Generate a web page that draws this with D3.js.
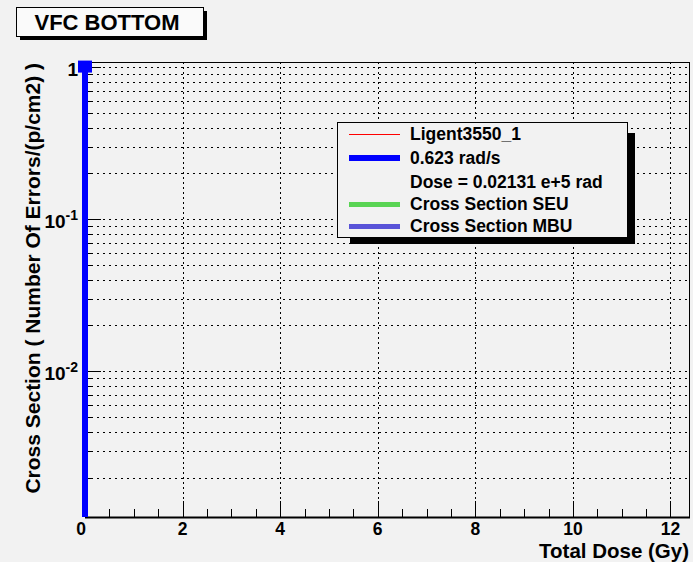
<!DOCTYPE html>
<html>
<head>
<meta charset="utf-8">
<script src="https://cdn.jsdelivr.net/npm/d3@7"></script>
<style>
  html, body { margin: 0; padding: 0; background: #f2f2f2; }
  svg { display: block; }
  text { font-family: "Liberation Sans", Arial, Helvetica, sans-serif; font-weight: bold; fill: #000; }
</style>
</head>
<body>
<svg id="chart" width="693" height="562"></svg>
<script>
// ---- data ----
const chartTitle = "VFC BOTTOM";
const xTitle = "Total Dose (Gy)";
const yTitle = "Cross Section ( Number Of Errors/(p/cm2) )";
const doseGy = [0, 0];            // Total dose (Gy)
const crossSection = [1, 0];      // Cross section (0 drops to axis floor on log scale)
const xDomain = [0, 12.4];
const yDomain = [0.0011, 1.08];
const xTickValues = [0, 2, 4, 6, 8, 10, 12];
const yMajorTicks = [1, 0.1, 0.01];
const yMajorLabels = [["1", ""], ["10", "-1"], ["10", "-2"]];
const legendLabels = ["Ligent3550_1", "0.623 rad/s", "Dose = 0.02131 e+5 rad", "Cross Section SEU", "Cross Section MBU"];
const legendColors = ["#ff0000", "#0000ff", null, "#59d454", "#5954d8"];
const legendWidths = [1, 6, 0, 5, 5];

// ---- layout ----
const svg = d3.select("#chart");
const L = 85, R = 690, T = 62, B = 517;

const x = d3.scaleLinear().domain(xDomain).range([L, R]);
const y = d3.scaleLog().domain(yDomain).range([B, T]);

// minor log ticks
const yMinor = [];
for (let e = -3; e <= 0; e++) {
  for (let m = 1; m <= 9; m++) {
    const v = m * Math.pow(10, e);
    if (v >= yDomain[0] && v <= yDomain[1]) yMinor.push(v);
  }
}
const xMinor = d3.range(0, 12.5, 0.5).filter(v => v <= xDomain[1]);

// ---- grid ----
const grid = svg.append("g");
grid.selectAll("line.hg").data(yMinor).enter().append("line")
  .attr("x1", L).attr("x2", R)
  .attr("y1", d => Math.round(y(d)) + 0.5).attr("y2", d => Math.round(y(d)) + 0.5)
  .attr("stroke", "#000").attr("stroke-width", 1).attr("stroke-dasharray", "2,4");
grid.selectAll("line.vg").data(xTickValues.filter(v => v > 0)).enter().append("line")
  .attr("x1", d => Math.round(x(d)) + 0.5).attr("x2", d => Math.round(x(d)) + 0.5)
  .attr("y1", T).attr("y2", B)
  .attr("stroke", "#000").attr("stroke-width", 1).attr("stroke-dasharray", "2,3");

// ---- frame ----
svg.append("rect").attr("x", L + 0.5).attr("y", T + 0.5)
  .attr("width", R - L - 1).attr("height", B - T)
  .attr("fill", "none").attr("stroke", "#000").attr("stroke-width", 1);

// ---- axes (ROOT-like ticks) ----
const ax = svg.append("g");
ax.append("line").attr("x1", L).attr("x2", R).attr("y1", B + 0.5).attr("y2", B + 0.5)
  .attr("stroke", "#000").attr("stroke-width", 2);
ax.selectAll("line.xt").data(xMinor).enter().append("line")
  .attr("x1", d => Math.round(x(d)) + 0.5).attr("x2", d => Math.round(x(d)) + 0.5)
  .attr("y1", B).attr("y2", d => (d % 2 === 0) ? B - 16 : B - 8)
  .attr("stroke", "#000").attr("stroke-width", 1);
ax.selectAll("text.xl").data(xTickValues).enter().append("text")
  .attr("x", d => x(d) - (d === 0 ? 4 : 0)).attr("y", 535)
  .attr("text-anchor", "middle").attr("font-size", 17.5)
  .text(d => d3.format("d")(d));

ax.selectAll("line.yt").data(yMinor).enter().append("line")
  .attr("x1", L).attr("x2", d => yMajorTicks.some(m => Math.abs(m - d) / d < 1e-6) ? L + 16 : L + 8)
  .attr("y1", d => Math.round(y(d)) + 0.5).attr("y2", d => Math.round(y(d)) + 0.5)
  .attr("stroke", "#000").attr("stroke-width", 1);
const yl = ax.selectAll("text.yl").data(yMajorTicks).enter().append("text")
  .attr("x", 78).attr("y", d => y(d) + 8.5)
  .attr("text-anchor", "end").attr("font-size", 19);
yl.append("tspan").text((d, i) => yMajorLabels[i][0]);
yl.append("tspan").attr("font-size", 14).attr("dy", -8).text((d, i) => yMajorLabels[i][1]);

// axis titles
svg.append("text").attr("x", 689).attr("y", 558).attr("text-anchor", "end")
  .attr("font-size", 20.5).text(xTitle);
svg.append("text").attr("transform", "translate(40,63) rotate(-90)")
  .attr("text-anchor", "end").attr("font-size", 21).text(yTitle);

// ---- data series ----
const pts = doseGy.map((d, i) => ({ x: d, v: crossSection[i] }));
const py = v => v > 0 ? y(v) : B;
svg.append("path")
  .attr("d", d3.line().x(d => x(d.x)).y(d => py(d.v))(pts))
  .attr("fill", "none").attr("stroke", "#0000ff").attr("stroke-width", 6);
svg.selectAll("rect.mk").data(pts.filter(p => p.v > 0)).enter().append("rect")
  .attr("x", d => x(d.x) - 7).attr("y", d => y(d.v) - 6.5)
  .attr("width", 14).attr("height", 12).attr("fill", "#0000ff");

// ---- title box ----
svg.append("rect").attr("x", 20).attr("y", 11).attr("width", 187).attr("height", 29).attr("fill", "#000");
svg.append("rect").attr("x", 16.5).attr("y", 7.5).attr("width", 187).attr("height", 29)
  .attr("fill", "#fafafa").attr("stroke", "#000").attr("stroke-width", 1);
svg.append("text").attr("x", 107).attr("y", 30).attr("text-anchor", "middle")
  .attr("font-size", 22).text(chartTitle);

// ---- legend ----
const lg = svg.append("g");
lg.append("rect").attr("x", 350).attr("y", 133).attr("width", 285).attr("height", 111).attr("fill", "#000");
lg.append("rect").attr("x", 337.5).attr("y", 122.5).attr("width", 290).attr("height", 115)
  .attr("fill", "#f2f2f2").attr("stroke", "#000").attr("stroke-width", 1);
const baseY = [140, 163.5, 187.5, 210, 231.5];
legendLabels.forEach((lab, i) => {
  if (legendColors[i]) {
    const ly = Math.round(baseY[i] - 6) + (legendWidths[i] % 2 ? 0.5 : 0);
    lg.append("line").attr("x1", 349).attr("x2", 400)
      .attr("y1", ly).attr("y2", ly)
      .attr("stroke", legendColors[i]).attr("stroke-width", legendWidths[i]);
  }
  lg.append("text").attr("x", 410).attr("y", baseY[i]).attr("font-size", 17.5).text(lab);
});
</script>
</body>
</html>
